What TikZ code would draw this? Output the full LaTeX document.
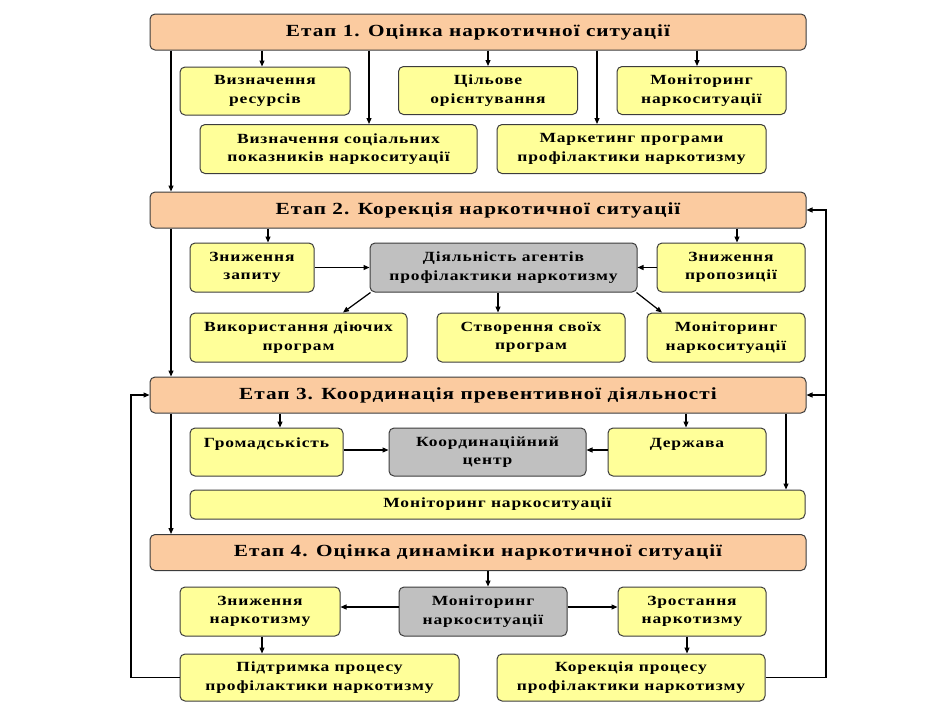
\documentclass[tikz,border=0pt]{standalone}
\usepackage{fontspec}
\setmainfont{Liberation Serif}
\newfontfamily\boxfont[FakeStretch=1.25,LetterSpace=6]{Liberation Serif}
\usetikzlibrary{arrows.meta,positioning,calc}
\definecolor{peach}{RGB}{251,203,160}
\definecolor{pale}{RGB}{255,255,153}
\definecolor{greybox}{RGB}{192,192,192}
\definecolor{edge}{RGB}{60,60,60}

\begin{document}
\begin{tikzpicture}[x=1pt,y=-1pt,
  base/.style={draw=edge, line width=1pt, rounded corners=5pt, align=center,
    inner sep=2pt, font=\boxfont\bfseries\fontsize{14}{18.5}\selectfont},
  stage/.style={base, fill=peach, minimum width=656pt, minimum height=36pt,
    font=\boxfont\bfseries\fontsize{17}{20}\selectfont},
  ybox/.style={base, fill=pale},
  gbox/.style={base, fill=greybox},
  arr/.style={-{Triangle[length=6pt,width=5pt]}, line width=1.2pt}]
\useasboundingbox (0,0) rectangle (940,705);

% Етап 1
\node[stage] (s1) at (478,32) {Етап 1. Оцінка наркотичної ситуації};
\node[ybox, minimum width=170pt, minimum height=48pt] (r1) at (265,91) {Визначення\\ресурсів};
\node[ybox, minimum width=179pt, minimum height=48pt] (c1) at (488,90.5) {Цільове\\орієнтування};
\node[ybox, minimum width=169pt, minimum height=48pt] (m1) at (701.5,90.5) {Моніторинг\\наркоситуації};
\node[ybox, minimum width=277pt, minimum height=49pt] (p1) at (338.5,149) {Визначення соціальних\\показників наркоситуації};
\node[ybox, minimum width=269pt, minimum height=49pt] (k1) at (631.5,149) {Маркетинг програми\\профілактики наркотизму};
\draw[arr] (262,0 |- s1.south) -- (262,0 |- r1.north);
\draw[arr] (369,0 |- s1.south) -- (369,0 |- p1.north);
\draw[arr] (488,0 |- s1.south) -- (488,0 |- c1.north);
\draw[arr] (597,0 |- s1.south) -- (597,0 |- k1.north);
\draw[arr] (697,0 |- s1.south) -- (697,0 |- m1.north);

% Етап 2
\node[stage] (s2) at (478,210) {Етап 2. Корекція наркотичної ситуації};
\node[ybox, minimum width=124pt, minimum height=49pt] (z1) at (252,267.5) {Зниження\\запиту};
\node[gbox, minimum width=267pt, minimum height=49pt] (d1) at (503.5,267.5) {Діяльність агентів\\профілактики наркотизму};
\node[ybox, minimum width=148pt, minimum height=49pt] (z2) at (731,267.5) {Зниження\\пропозиції};
\node[ybox, minimum width=217pt, minimum height=49pt] (v1) at (298.5,337.5) {Використання діючих\\програм};
\node[ybox, minimum width=188pt, minimum height=49pt] (v2) at (531,337.5) {Створення своїх\\програм};
\node[ybox, minimum width=158pt, minimum height=49pt] (v3) at (726,337.5) {Моніторинг\\наркоситуації};
\draw[arr] (268,0 |- s2.south) -- (268,0 |- z1.north);
\draw[arr] (737,0 |- s2.south) -- (737,0 |- z2.north);
\draw[arr] (z1.east) -- (d1.west);
\draw[arr] (z2.west) -- (d1.east);
\draw[arr] ([xshift=1pt]d1.south west) -- (343,0 |- v1.north);
\draw[arr] (498,0 |- d1.south) -- (498,0 |- v2.north);
\draw[arr] ([xshift=-1pt]d1.south east) -- (662,0 |- v3.north);

% Етап 3
\node[stage] (s3) at (478,395) {Етап 3. Координація превентивної діяльності};
\node[ybox, minimum width=153pt, text height=17pt, text depth=27pt] (g1) at (266.5,452) {Громадськість};
\node[gbox, minimum width=197pt, minimum height=48pt] (kc) at (487.5,452) {Координаційний\\центр};
\node[ybox, minimum width=158pt, text height=17pt, text depth=27pt] (dz) at (687,452) {Держава};
\node[ybox, minimum width=615pt, minimum height=29pt] (mw) at (497.5,504.5) {Моніторинг наркоситуації};
\draw[arr] (280,0 |- s3.south) -- (280,0 |- g1.north);
\draw[arr] (686,0 |- s3.south) -- (686,0 |- dz.north);
\draw[arr] (786,0 |- s3.south) -- (786,0 |- mw.north);
\draw[arr] (g1.east |- 0,450) -- (kc.west |- 0,450);
\draw[arr] (dz.west |- 0,450) -- (kc.east |- 0,450);

% Етап 4
\node[stage] (s4) at (478,552.5) {Етап 4. Оцінка динаміки наркотичної ситуації};
\node[ybox, minimum width=160pt, minimum height=49pt] (zn) at (260,611.5) {Зниження\\наркотизму};
\node[gbox, minimum width=168pt, minimum height=49pt] (mg) at (483,611.5) {Моніторинг\\наркоситуації};
\node[ybox, minimum width=148pt, minimum height=49pt] (zr) at (692,611.5) {Зростання\\наркотизму};
\node[ybox, minimum width=279pt, minimum height=47pt] (pt) at (319.5,677.5) {Підтримка процесу\\профілактики наркотизму};
\node[ybox, minimum width=268pt, minimum height=47pt] (kr) at (631,677.5) {Корекція процесу\\профілактики наркотизму};
\draw[arr] (488,0 |- s4.south) -- (488,0 |- mg.north);
\draw[arr] (mg.west |- 0,607) -- (zn.east |- 0,607);
\draw[arr] (mg.east |- 0,607) -- (zr.west |- 0,607);
\draw[arr] (262,0 |- zn.south) -- (262,0 |- pt.north);
\draw[arr] (687,0 |- zr.south) -- (687,0 |- kr.north);

% переходи між етапами
\draw[arr] (171,0 |- s1.south) -- (171,0 |- s2.north);
\draw[arr] (171,0 |- s2.south) -- (171,0 |- s3.north);
\draw[arr] (171,0 |- s3.south) -- (171,0 |- s4.north);
\draw[arr] (pt.west) -| (131,0 |- s3.west) -- (s3.west);
\draw[arr] (kr.east) -| (826,0 |- s2.east) -- (s2.east);
\draw[arr] (826,0 |- s3.east) -- (s3.east);
\end{tikzpicture}
\end{document}
